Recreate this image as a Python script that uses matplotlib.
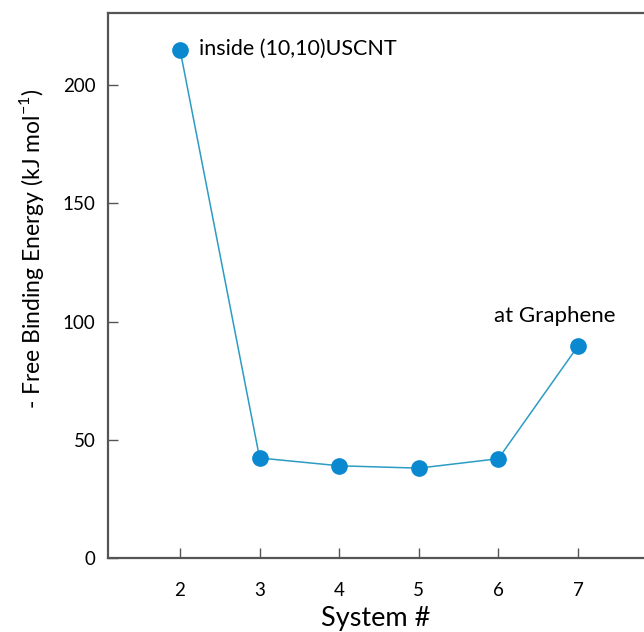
import matplotlib
matplotlib.use("Agg")
import matplotlib.pyplot as plt

systems = [2, 3, 4, 5, 6, 7]
energy = [215, 42.3, 39, 38, 42, 89.6]
xticks = [2, 3, 4, 5, 6, 7]
yticks = [0, 50, 100, 150, 200]

plt.rcParams['font.family'] = ['Lato', 'DejaVu Sans']
plt.rcParams['mathtext.fontset'] = 'custom'
plt.rcParams['mathtext.rm'] = 'Lato'

fig = plt.figure(figsize=(6.44, 6.32), dpi=100)
ax = fig.add_axes([0.1677, 0.1171, 0.8323, 0.8623])

ax.plot(systems, energy, color='#2b9cc4', linewidth=1.1, zorder=2)
ax.plot(systems, energy, 'o', color='#0a88d0', markersize=11, zorder=3)

# labels next to the end points
ax.text(2.24, 215.5, 'inside (10,10)USCNT', fontsize=15.5, va='center', ha='left')
ax.text(6.71, 102.3, 'at Graphene', fontsize=16, va='center', ha='center')

ax.set_xlim(1.095, 7.83)
ax.set_ylim(0, 230.5)
ax.set_xticks(xticks)
ax.set_yticks(yticks)
ax.tick_params(direction='in', length=7, width=1, color='#555555', labelsize=13.5,
               pad=9)
ax.tick_params(axis='x', pad=17)

for s in ['left', 'bottom', 'top']:
    ax.spines[s].set_color('#555555')
    ax.spines[s].set_linewidth(1.6)
ax.spines['right'].set_visible(False)

ax.set_xlabel('System #', fontsize=19.5, labelpad=5)
ax.set_ylabel(r'- Free Binding Energy (kJ mol$^{\mathregular{-1}}$)', fontsize=16.5)
ax.yaxis.set_label_coords(-0.115, 0.567)

fig.savefig('out.png', dpi=100)
